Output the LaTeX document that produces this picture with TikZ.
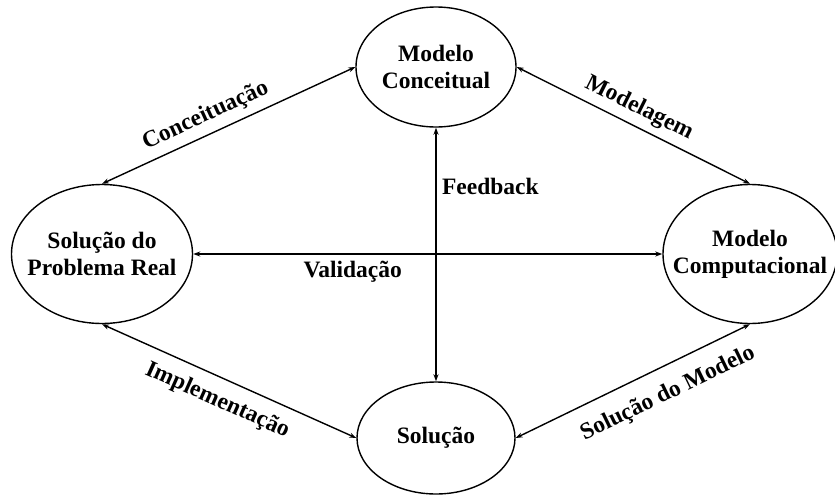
\documentclass[tikz,border=0pt]{standalone}
\usepackage{fontspec}
\setmainfont{Liberation Serif}
\usepackage{tikz}
\usetikzlibrary{shapes.geometric,arrows.meta}
\tikzstyle{etapa}=[draw,ellipse,align=center,inner xsep=-24pt,inner ysep=0pt,line width=1.4pt]
\tikzstyle{seta}=[{Stealth[length=7pt,width=5pt]}-{Stealth[length=7pt,width=5pt]},line width=1.4pt]

\begin{document}
\begin{tikzpicture}[x=1pt,y=-1pt,font=\bfseries\fontsize{23.5}{27}\selectfont]
  \useasboundingbox (0,0) rectangle (835,498);
  % as quatro etapas
  \node[etapa,minimum width=160pt,minimum height=120pt] (conceitual) at (436,67) {Modelo\\Conceitual};
  \node[etapa,minimum width=181pt,minimum height=139pt] (problema) at (102,254) {Solução do\\Problema Real};
  \node[etapa,minimum width=174pt,minimum height=139pt] (computacional) at (750,254) {Modelo\\Computacional};
  \node[etapa,minimum width=158pt,minimum height=112pt] (solucao) at (436,438) {Solução};
  % ligacoes
  \draw[seta] (problema.north) -- node[sloped,above=4pt,pos=0.44] {Conceituação} (conceitual.west);
  \draw[seta] (conceitual.east) -- node[sloped,above=3pt,pos=0.49] {Modelagem} (computacional.north);
  \draw[seta] (problema.south) -- node[sloped,below=8pt,pos=0.49] {Implementação} (solucao.west);
  \draw[seta] (solucao.east) -- node[sloped,below=12pt,pos=0.6] {Solução do Modelo} (computacional.south);
  \draw[seta] (problema.east) -- node[below=3pt,pos=0.34] {Validação} (computacional.west);
  \draw[seta] (conceitual.south) -- node[right,pos=0.23,xshift=2pt] {Feedback} (solucao.north);
\end{tikzpicture}
\end{document}
